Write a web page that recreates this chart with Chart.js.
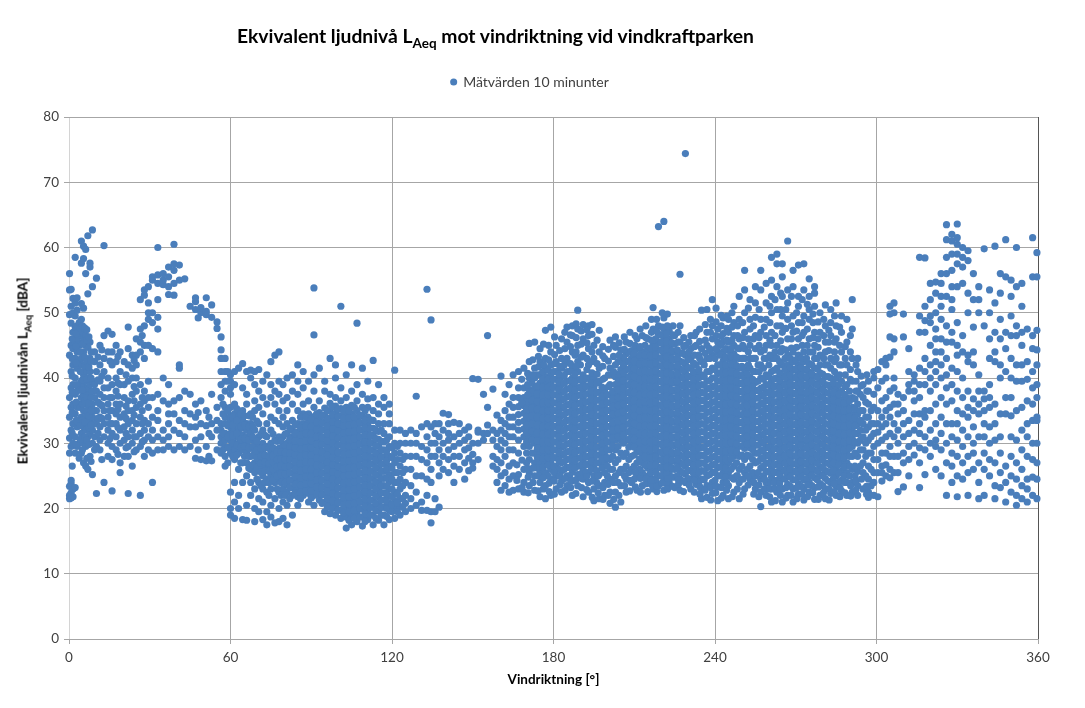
<!DOCTYPE html>
<html>
<head>
<meta charset="utf-8">
<script src="https://cdn.jsdelivr.net/npm/chart.js@4"></script>
<style>
  html, body { margin: 0; padding: 0; background: #fff; }
  #wrap { position: relative; width: 1085px; height: 708px; font-family: Lato, sans-serif; }
  #main-title { position: absolute; left: 237px; top: 24px; font-size: 19.3px; font-weight: 700; color: #000; white-space: nowrap; }
  #y-title { position: absolute; left: 22px; top: 371px; font-size: 13.7px; font-weight: 700; color: #000; white-space: nowrap;
             transform: translate(-50%, -50%) rotate(-90deg); }
  sub { font-size: 70%; line-height: 0; }
</style>
</head>
<body>
<div id="wrap">
  <canvas id="chart" width="1085" height="708"></canvas>
  <div id="main-title">Ekvivalent ljudnivå L<sub>Aeq</sub> mot vindriktning vid vindkraftparken</div>
  <div id="y-title">Ekvivalent ljudnivån L<sub>Aeq</sub> [dBA]</div>
</div>
<script>
// each row: [wind direction, [levels read at that direction]]
const sector0to60 = [
  [0.2,[21.5,22,23.4,28.5,30.8,34,37,43.5,49.7,53.5,56]],
  [0.8,[21.6,22.4,23.8,24.3,29.5,32,35.5,38.5,41,45,48.4,51,53.6]],
  [1.5,[21.8,23,30,33,36,39,42,44.5,47,50,52.2]],
  [2.3,[23.2,28.5,31,34.5,37.5,40,43,45.5,47.8,49.5,51.5,58.5]],
  [3,[29.5,32.5,35.5,38,41.5,44,46,48,50.4,52.3]],
  [3.8,[27.7,30,33,36,39,42.5,45,47,48.5]],
  [4.6,[28.5,31.5,34,37,39.5,43,45.3,46.5,49,51.4,57.6,61]],
  [5.4,[27,30,32.5,35,37.5,38.7,40.5,44,46,47,50.7,58.3,60.2]],
  [6.2,[26.5,29.5,32,34,36,38,39.5,41,45,46.5,56,59.7]],
  [7,[26,31,33,35,37,38.5,40,42,44.7,52.9,61.8]],
  [7.8,[28,31.5,33.5,35.5,37.5,39,41,43,45.5,57,57.6]],
  [8.7,[25.2,30,32,34,36,38,39.5,54,62.7]],
  [9.5,[29,31,33,35,37,39,42.5,44]],
  [10.2,[22.3,29.5,33,35,38,41,55.3]],
  [11.5,[29,30.5,32.5,34,36,37.5,39.5,42,45]],
  [13,[24,31,33,35,37,38.5,41,43,46.5,60.3]],
  [14.5,[28,30,32,34,36,38.5,40,44,47.2]],
  [16,[22.7,27.5,29.5,31.5,33,35,37,39,42,44,46.7]],
  [17.5,[29,31,33,34.5,36,38,40,42.5,45]],
  [19,[25.5,27,30,32,34,36,39,41,44]],
  [20.5,[28,30.5,32.5,34.5,37,39,42.5]],
  [22,[22.3,28,29.5,31,33,35,36.5,39.5,42,44.5,47.8]],
  [23.5,[26.5,30,32,33.5,35,37.5,40,41.5,43.5]],
  [25,[29,31,33,35.5,38,40,42,43.5,46]],
  [26.5,[22,29.5,31.5,34,36,39,44,45.5,47.5,52]],
  [28,[28,30.5,32,33.5,36.5,38,43,45,48,52.7,53.5]],
  [29.5,[29,31,33,35.5,37,39.5,45,49,50,51.5,54]],
  [31,[24,28.5,30.5,32,34,37,44.5,48.5,50,55,55.5]],
  [33,[29,31,33.5,35,37.5,44,47.5,49.3,52,54.5,55.8,60]],
  [35,[29,30.5,32,36.5,40,54.3,55,56]],
  [37,[29.5,31,33,34.5,36,39,52.8,54,55.5,57]],
  [39,[29,32,34.5,36.5,52.7,54.5,56.5,57.5,60.5]],
  [41,[29.5,31.5,33.5,37,41.5,42,55,57.3]],
  [43,[29,31,33,35,38,55.2]],
  [45,[29.5,32.5,34.5,37.5,51]],
  [47,[27.7,30.5,32.5,34,36,50.5,51.7,52.3]],
  [49,[27.5,31,33,36.5,50,50.8]],
  [51,[27.3,29.5,32.7,35,49.7,50.2,52.3]],
  [53,[27.3,31,33,37.5,49.3,51.2]],
  [55,[29,32,33.5,35.5,47.6,48.6]],
  [56.5,[28.5,30,31,32,33,37,39,41,43,44.3,46.3]],
  [58,[26.5,28,29.5,30.5,31.5,33,34,35.5,38,39.5,41,43]]
];
const sector60to130 = [
  [60,[19,20,22.5,28.5,29.5,30.5,31.5,32.5,33.5,34.2,35.5,37.5,38.5,39.5,40.5]],
  [61.5,[18.5,21,24,27.5,29,30,31,32,33,34.5,36,39,41]],
  [63,[20,22,26,28.5,30,31,32,33,34,35,41.5]],
  [64.5,[18.3,24,27,29,30,31.2,32.3,33.5,35,38.5,42.2]],
  [66,[18.2,20.5,25,27,28.5,29.7,31,32,33,36,37.5,41]],
  [67.5,[22,24,26,28,29.2,30.5,31.5,33,34.5,40,41.2]],
  [69,[18,20,23,25.5,27,28.5,29.5,30.5,32,35,36.5,39,41]],
  [70.5,[19.5,21.5,24,26,27.3,28.3,29.5,31,33,35.5,38,41.3]],
  [72,[18.3,21,23,25,26.5,27.5,28.5,30,32,34.5,37,39.5]],
  [73.5,[17.5,19.5,22.5,24.5,26,27,28,29.5,31,33,36,40.5]],
  [75,[18.7,20.5,23,25,26.5,27.5,28.5,30,32,34,37,39,42.5]],
  [76.5,[17.8,21.5,24,25.5,26.5,27.7,29,30.5,33.5,36,38,43.5]],
  [78,[18,20,22.5,24.5,26,27,28,29.2,31,33,35,37.5,39.5,44]],
  [79.5,[18.5,21,23,24.5,25.7,27,28.2,29.5,31,32.5,34,36.5,39]],
  [81,[17.5,20.5,22.5,23.7,25,26,27,28,29,30,31.5,33,35,37,40]],
  [83,[19,22,23.2,24.3,25.4,26.5,27.6,28.7,29.8,31,32,33.5,36,38,40.5]],
  [85,[20.5,21.8,22.9,24,25.1,26.2,27.3,28.4,29.5,30.6,31.7,33,35,37.5,39.5,42]],
  [87,[22,23.1,24.2,25.3,26.4,27.5,28.6,29.7,30.8,31.9,33,34.5,36,38.5,41]],
  [89,[21,22.3,23.4,24.5,25.6,26.7,27.8,28.9,30,31.1,32.2,33.3,34.5,36.5,39.5]],
  [91,[20.5,22,23.1,24.2,25.3,26.4,27.5,28.6,29.7,30.8,31.9,33,34.1,35.5,38,40.5,46.6,53.8]],
  [93,[21.3,22.6,23.7,24.8,25.9,27,28.1,29.2,30.3,31.4,32.5,33.6,34.7,36.5,41.5]],
  [95,[19.5,21,22.2,23.3,24.4,25.5,26.6,27.7,28.8,29.9,31,32.1,33.2,34.3,35.4,38,39.5]],
  [97,[19.2,20.6,21.8,22.9,24,25.1,26.2,27.3,28.4,29.5,30.6,31.7,32.8,33.9,35,36.1,37.5,43]],
  [99,[19,20.3,21.4,22.5,23.6,24.7,25.8,26.9,28,29.1,30.2,31.3,32.4,33.5,34.6,35.7,37,40,42]],
  [101,[18.5,19.8,21,22.1,23.2,24.3,25.4,26.5,27.6,28.7,29.8,30.9,32,33.1,34.2,35.3,36.5,38.5,51]],
  [103,[17,18.7,20,21.2,22.3,23.4,24.5,25.6,26.7,27.8,28.9,30,31.1,32.2,33.3,34.4,35.5,37,40.5]],
  [105,[17.5,19,20.2,21.3,22.4,23.5,24.6,25.7,26.8,27.9,29,30.1,31.2,32.3,33.4,34.5,35.8,38,42]],
  [107,[18,19.3,20.5,21.6,22.7,23.8,24.9,26,27.1,28.2,29.3,30.4,31.5,32.6,33.7,35,36.5,39,48.4]],
  [109,[17.3,18.7,19.9,21,22.1,23.2,24.3,25.4,26.5,27.6,28.7,29.8,30.9,32,33.1,34.2,35.5,37.5,41.5]],
  [111,[18.3,19.6,20.7,21.8,22.9,24,25.1,26.2,27.3,28.4,29.5,30.6,31.7,32.8,34,35.5,36.8,39.5]],
  [113,[17.5,19,20.2,21.3,22.4,23.5,24.6,25.7,26.8,27.9,29,30.1,31.2,32.3,33.5,35,37,42.7]],
  [115,[18.2,19.6,20.7,21.8,22.9,24,25.1,26.2,27.3,28.4,29.5,30.6,31.8,33,34.5,36,39]],
  [117,[17.5,19,20.2,21.3,22.4,23.5,24.6,25.7,26.8,27.9,29,30.2,31.5,33,35.5,37]],
  [119,[18.3,19.7,20.8,21.9,23,24.1,25.2,26.5,28,29.5,31,33,34.5,36]],
  [121,[18.5,20,21.2,22.5,24,25.5,27,28.5,30,32,41.2]],
  [123,[19,20.3,21.5,23,24.5,26.5,28.5,30,32]],
  [125,[19.5,20.8,22,24,26,28,30,31.5]],
  [127,[20,21.5,23.5,26,28,30,32]],
  [129,[20.5,22.5,25,28,30,31.5,37.2]]
];
const sector130to165 = [
  [131,[19.7,21,25,27.5,29.5,32.5]],
  [133,[19.7,22,24.5,27,29,31,33,53.6]],
  [134.5,[17.8,19.5,24,26,28,30,32.5,48.9]],
  [136,[19.5,21.5,28,30,31.5,33]],
  [137.5,[20.2,25,27,29,31,33]],
  [139,[26,28,30,32,34.6]],
  [141,[25.5,27.5,29,30.5,31.5,33,34.4]],
  [143,[24,26.5,28,29.5,31,33.2]],
  [145,[26,28,30,31.5,33]],
  [147,[24.5,27,29,30.5,32]],
  [148.5,[25.8,27.7,29.3,31,32.5]],
  [150,[26.2,27,28.3,30,39.9]],
  [152,[27.5,30,31.7,32,39.8]],
  [154,[30.5,31.5,37.5]],
  [155.5,[31.5,32.8,35.5,46.5]],
  [157.5,[26.5,28,30.5,32,38.3]],
  [159,[24,26,27.5,29.5,31.5,34.3]],
  [160.5,[22.8,25,27,29,30.5,32,33.5,40.3]],
  [162,[23.5,25.5,28,30,31.5,33,35,37.5]],
  [163.5,[22.5,24.5,26.5,29,31,32.5,34,36,39]],
  [165,[22.8,25,27,29,31,32.5,34,35.5,37,40.5]]
];
const sector165to205 = [
  [167,[23,25.2,28.5,30.5,32,33.2,34.4,35.6,37,38.5,41]],
  [169,[22.5,24,26,29.5,31,32.2,33.4,34.6,35.8,37,38.5,41.5]],
  [171,[23.5,25.5,27.5,29.5,31,32.2,33.4,34.6,35.8,37,38.2,40,42.5,45.3]],
  [173,[22.8,25,27,28.5,30,31.2,32.4,33.6,34.8,36,37.2,38.4,40,41.5,45.5]],
  [175,[21.8,24,25.5,27,28.4,29.6,30.8,32,33.2,34.4,35.6,36.8,38,39.2,40.5,42.5,44.5]],
  [177,[21.5,23.5,25.5,27,28.2,29.4,30.6,31.8,33,34.2,35.4,36.6,37.8,39,40.2,41.5,43,47.3]],
  [179,[22,24.5,26,27.2,28.4,29.6,30.8,32,33.2,34.4,35.6,36.8,38,39.2,40.4,42,44,47.8]],
  [181,[23,25,26.5,27.8,29,30.2,31.4,32.6,33.8,35,36.2,37.4,38.6,39.8,41,42.5,45]],
  [183,[22.5,24.2,25.8,27,28.2,29.4,30.6,31.8,33,34.2,35.4,36.6,37.8,39,40.2,41.5,43,46]],
  [185,[23.5,25,26.3,27.5,28.7,29.9,31.1,32.3,33.5,34.7,35.9,37.1,38.3,39.5,41,43,45.5,47.8]],
  [187,[22,24.2,25.6,26.8,28,29.2,30.4,31.6,32.8,34,35.2,36.4,37.6,38.8,40,41.5,44,46.5,48]],
  [189,[23.5,25.2,26.5,27.7,28.9,30.1,31.3,32.5,33.7,34.9,36.1,37.3,38.5,39.7,41,42.5,45,47.5,50.4]],
  [191,[21.8,24.5,26,27.2,28.4,29.6,30.8,32,33.2,34.4,35.6,36.8,38,39.2,40.5,43.5,46,48.2]],
  [193,[22.5,24,25.5,26.8,28,29.2,30.4,31.6,32.8,34,35.2,36.4,37.6,38.8,40,42,44.5,46.5,48]],
  [195,[21.2,23,25,26.5,27.7,28.9,30.1,31.3,32.5,33.7,34.9,36.1,37.3,38.5,40,43,45]],
  [197,[21.5,23.5,25.2,27,28.2,29.4,30.6,31.8,33,34.2,35.4,36.6,37.8,39.5,41.5,44,47.3]],
  [199,[22,24,25.5,27,28.2,29.4,30.6,31.8,33,34.2,35.4,36.6,38,40,43]],
  [201,[20.8,22.5,24.5,26,27.5,29,30.2,31.4,32.6,33.8,35,36.2,37.4,39,41.5,45.8]],
  [203,[20.2,22.5,25,27,29,30.5,31.7,32.9,34.1,35.3,36.5,37.7,39,40.2,42,44.7,46.3]],
  [205,[21,23.5,26,28.5,30.5,31.7,32.9,34.1,35.3,36.5,37.7,38.9,40.1,41.3,42.5,44.3]]
];
const sector205to250 = [
  [207,[22.5,24.5,26.5,28.5,30.5,31.7,32.9,34.1,35.3,36.5,37.7,38.9,40.1,41.3,42.5,43.7,45.5]],
  [209,[24,26,28,29.8,31,32.2,33.4,34.6,35.8,37,38.2,39.4,40.6,41.8,43,44.2]],
  [211,[22.8,25,27,28.7,29.9,31.1,32.3,33.5,34.7,35.9,37.1,38.3,39.5,40.7,41.9,43.1,44.5,46]],
  [213,[23.5,25.5,27,28.4,29.6,30.8,32,33.2,34.4,35.6,36.8,38,39.2,40.4,41.6,42.8,44,46.5]],
  [215,[22.6,24.7,26.2,27.5,28.7,29.9,31.1,32.3,33.5,34.7,35.9,37.1,38.3,39.5,40.7,41.9,43.1,44.3,46]],
  [217,[23,24.5,25.8,27,28.2,29.4,30.6,31.8,33,34.2,35.4,36.6,37.8,39,40.2,41.4,42.6,43.8,45,47.5,50.8]],
  [219,[23.5,25,26.3,27.5,28.7,29.9,31.1,32.3,33.5,34.7,35.9,37.1,38.3,39.5,40.7,41.9,43.1,44.3,45.5,46.7,48,63.2]],
  [221,[22.8,24.3,25.6,26.8,28,29.2,30.4,31.6,32.8,34,35.2,36.4,37.6,38.8,40,41.2,42.4,43.6,44.8,46,47.5,49.2,64]],
  [223,[24,25.5,26.8,28,29.2,30.4,31.6,32.8,34,35.2,36.4,37.6,38.8,40,41.2,42.4,43.6,44.8,46,47.2]],
  [225,[23.2,24.8,26,27.2,28.4,29.6,30.8,32,33.2,34.4,35.6,36.8,38,39.2,40.4,41.6,42.8,44,45.2,46.5]],
  [227,[22.8,24.5,25.8,27,28.2,29.4,30.6,31.8,33,34.2,35.4,36.6,37.8,39,40.2,41.4,42.6,43.8,45.5,48,55.9]],
  [229,[24,25.3,26.5,27.7,28.9,30.1,31.3,32.5,33.7,34.9,36.1,37.3,38.5,39.7,40.9,42.1,43.5,45,74.4]],
  [231,[23,24.5,25.8,27,28.2,29.4,30.6,31.8,33,34.2,35.4,36.6,37.8,39,40.2,41.5,43,44.5,46.5]],
  [233,[23.7,25,26.2,27.4,28.6,29.8,31,32.2,33.4,34.6,35.8,37,38.2,39.4,40.6,42,45,47]],
  [235,[21.5,23,24.5,25.8,27,28.2,29.4,30.6,31.8,33,34.2,35.4,36.6,37.8,39,40.5,42.5,44.5,50.4]],
  [237,[21.7,23.5,25,26.3,27.5,28.7,29.9,31.1,32.3,33.5,34.7,35.9,37.1,38.3,39.5,41,43,45,47,50.5]],
  [239,[22.3,24,25.5,26.7,27.9,29.1,30.3,31.5,32.7,33.9,35.1,36.3,37.5,38.7,40,41.5,43.5,46,48,52]],
  [241,[21.2,23.3,25,26.3,27.5,28.7,29.9,31.1,32.3,33.5,34.7,35.9,37.1,38.3,39.5,40.7,42,44,45.5,47.5]],
  [243,[22,24,25.5,27,28.2,29.4,30.6,31.8,33,34.2,35.4,36.6,37.8,39,40.2,41.4,42.6,44,45.5,46.8,49.2]],
  [245,[21.5,23.5,25.5,27,28.5,29.7,30.9,32.1,33.3,34.5,35.7,36.9,38.1,39.3,40.5,41.7,43,44.2,45.5,47,49]],
  [247,[22.5,24.5,26.5,28,29.3,30.5,31.7,32.9,34.1,35.3,36.5,37.7,38.9,40.1,41.3,42.5,43.7,45,46.5,48.5,51]],
  [249,[21.5,24,26,28,29.5,30.7,31.9,33.1,34.3,35.5,36.7,37.9,39.1,40.3,41.5,43,44.5,46,49,52.5]]
];
const sector250to300 = [
  [251,[23,25.5,27.5,29.2,30.4,31.6,32.8,34,35.2,36.4,37.6,38.8,40,41.2,43,44.5,47,50,53.5,56.5]],
  [253,[24.5,26.5,28,29.3,30.5,31.7,32.9,34.1,35.3,36.5,37.7,38.9,40.1,41.5,43,45,47.5,49,52]],
  [255,[23,25,27,28.5,29.7,30.9,32.1,33.3,34.5,35.7,36.9,38.1,39.3,41,43,44.5,46.5,49.3,51.5,54]],
  [257,[20.3,22.5,24.5,26.2,27.6,28.8,30,31.2,32.4,33.6,34.8,36,37.2,38.4,40,42,44,47,49,53.5,56.5]],
  [259,[22,24,25.7,27,28.2,29.4,30.6,31.8,33,34.2,35.4,36.6,37.8,39,40.5,43,45,46.5,49,51.5,54.5]],
  [261,[21,23,24.8,26.3,27.5,28.7,29.9,31.1,32.3,33.5,34.7,35.9,37.1,38.3,39.5,41,43,45,47,50,52.5,55,58.5]],
  [263,[22.5,24.3,25.6,26.8,28,29.2,30.4,31.6,32.8,34,35.2,36.4,37.6,38.8,40,41.5,43,45,48,50.5,54,57.5,59]],
  [265,[21,23,24.6,25.9,27.1,28.3,29.5,30.7,31.9,33.1,34.3,35.5,36.7,37.9,39.1,40.3,42,44.5,47,49.5,52.5,55.5,57.5]],
  [267,[22,23.7,25.1,26.3,27.5,28.7,29.9,31.1,32.3,33.5,34.7,35.9,37.1,38.3,39.5,40.7,42,43.5,46,49,51.5,53.5,61]],
  [269,[21,23,24.4,25.6,26.8,28,29.2,30.4,31.6,32.8,34,35.2,36.4,37.6,38.8,40,41.2,42.5,44,47,49.5,54,56.5]],
  [271,[22.2,23.8,25.1,26.3,27.5,28.7,29.9,31.1,32.3,33.5,34.7,35.9,37.1,38.3,39.5,40.7,42,43.5,46,48.5,51,52.5,57.3]],
  [273,[21.3,23,24.4,25.6,26.8,28,29.2,30.4,31.6,32.8,34,35.2,36.4,37.6,38.8,40,41.2,42.5,44,47,49.5,53.5,57.5]],
  [275,[22.5,24,25.3,26.5,27.7,28.9,30.1,31.3,32.5,33.7,34.9,36.1,37.3,38.5,39.7,40.9,42.2,44,46,49,50.5,52.5,55.2]],
  [277,[21.4,23.2,24.7,25.9,27.1,28.3,29.5,30.7,31.9,33.1,34.3,35.5,36.7,37.9,39.1,40.3,41.5,43,45,47,51,53,54]],
  [279,[22,23.8,25.2,26.4,27.6,28.8,30,31.2,32.4,33.6,34.8,36,37.2,38.4,39.6,40.8,42,43.5,47,50]],
  [281,[21.5,23,24.6,25.8,27,28.2,29.4,30.6,31.8,33,34.2,35.4,36.6,37.8,39,40.2,42,44,45.5,48,51.2]],
  [283,[22.3,24,25.4,26.6,27.8,29,30.2,31.4,32.6,33.8,35,36.2,37.4,38.6,40,41.5,43,46.5,48.5,50.5]],
  [285,[22,23.5,25,26.3,27.5,28.7,29.9,31.1,32.3,33.5,34.7,35.9,37.1,38.3,40,43,46,48,51.5]],
  [287,[22.7,24.3,25.7,27,28.2,29.4,30.6,31.8,33,34.2,35.4,36.6,38,39.5,42,44,47,49.5]],
  [289,[22,24,25.5,27,28.5,29.7,30.9,32.1,33.3,34.5,35.7,37,39,42,45.5,49]],
  [291,[22.5,24,26,28,29.5,30.7,31.9,33.1,34.3,35.5,37,39.5,43,47.5,52]],
  [293,[22,23.5,25.7,28,30,31.5,33,34.5,36,38,41,43]],
  [295,[23,25.5,27,29,31,33,35,37,39]],
  [297,[21.7,22.5,24.5,26.5,28.5,30.5,32.5,34,36,38,39.5]],
  [299,[22,24,25.5,27.5,29.5,31.5,33,35.5,37.5,40,41]]
];
const sector300to360 = [
  [300.5,[21.8,25.5,27.5,30,31.7,33,35,38.5,41.3]],
  [302,[24.2,25.5,26.5,28.5,30.5,32.5,34,36.5,39.5,42.5]],
  [303.5,[25,26.7,28.5,31,33,35,37,40,42,43]],
  [305,[24.7,26,28,29.5,31.5,34,35.5,38,43.2,46.3,49.8,51]],
  [306.5,[25.5,28,31,33,36,38.5,40,44,46,50,51.5]],
  [308,[22.6,25.5,28,30,32,34.5,36,37.5]],
  [310,[23.3,27,28.5,31,33,35,37,46.3,49.8]],
  [312,[25,27.5,29.5,31.5,33.5,38,39,41,44.5]],
  [314,[28.2,30,32,34.5,36.5,38,39.5,40.5]],
  [316,[23.2,27,29.3,31.5,33,34.5,37,39,41.5,47,49.5,58.5]],
  [318,[25.2,29,31,34,35,39,41,43,47,48.8,51,58.4]],
  [320,[28,30,32,35,38,40,42,45,48.5,49.5,52,54.5]],
  [322,[26,29.5,30.5,33,36,39,41,42.5,44,46,47.5,50,53,54.7]],
  [324,[25,29,31.5,34,37,40,42,44,46,49,51,52.5,54.5,56]],
  [326,[22,27,30,33,36,38.5,40.5,43,45.5,48,52.5,56,58.5,61.2,63.5]],
  [328,[24,26.5,28.5,31,33,36.5,39,41.5,45.5,47,50.5,52,54,56.5,59,61,62]],
  [330,[21.8,25,28,30.5,33,35,38,41,43.5,45,48.5,54,57.5,59,60.5,61.5,63.6]],
  [332,[24.5,27,29.5,32,34.5,37,40,44,46.5,54.5,57,58.5,60]],
  [334,[22,25.5,28,31,34,35.5,38,42.5,43.5,50,53,58,59.5]],
  [336,[26,28.5,30,32.5,35,36.8,42,44,47.8,52,56]],
  [338,[21.5,24,27,31,34.5,36,38,40.5,50,52,54]],
  [340,[22,26,28.5,31,33,35,36.8,38,48,59.8]],
  [342,[25,27.5,30,32.5,35.5,37,39,43,46,50,53.5]],
  [344,[21.5,23.5,27,30.5,33,36,42.5,44,47,51.5,60.2]],
  [346,[23.2,25.5,28.5,31,34.5,40,42,46,49,53,56]],
  [348,[21,24,26.5,34.5,37,41,44.5,47,55.5,61.2]],
  [350,[22.5,25,28,31,34.2,37,40,43,46.5,49.5,52.5,55]],
  [352,[20.5,22,24.5,27,30.5,35,39.5,42,46.5,48,54,60]],
  [354,[21.5,23.5,26,29,32,35.5,39.5,42,45,47,51,54.5]],
  [356,[21,23,24.5,28,31,33,36.5,39.8,42.5,47.5]],
  [358,[22,24.8,27.5,30,33.5,36,38.5,41,44.5,46.5,55.5,61.5]],
  [359.6,[21.5,24.5,27,30,33.5,34,37,39,42,44.3,47.3,55.5,59.2]]
];
// the packed parts of the cloud, between the rows above
const denseNorth = [
  [1.2,[26.5,31.5,34.7,37.8,40.3,43,46]],[2.7,[29.8,33.5,36.3,39,42.3,44.8,46.8]],[4.2,[30.6,32.7,35.5,38.2,41,44,47.6]],
  [5,[29,33.6,36,38.2,39.7,42,45.2,48]],[5.8,[31,33.2,36.4,41.8,43.2,47.7]],[6.6,[27.7,30.5,35,37,39.8,42.5,45.8,47.4]],
  [7.4,[29.8,32.4,34.2,36.2,41.7,46.3]],[8.2,[27.2,32.8,35,37,40,42.6,44]],[10.8,[31.5,33.8,36.3,39.7,43.2]],
  [12.2,[27.5,33.8,35.8,40.3,44.3]],[15.2,[30.7,33,35,37,42.6]],[18.2,[28.3,32.4,35.2,37.2,39.2,43.3]],
  [21.2,[29.3,31.5,33.8,35.7,40.5]],[24.2,[28.7,31,34.3,36.5,38.7,42.7]],[27.2,[30.2,33,35,37,46.5]],
  [48,[29,34.7,49.2]],[52,[28,31.5,34]],[57.2,[29,31.5,34.5,36]],[59,[27,29.3,31,32.7,35,39.5,41]]
];
const denseEast = [
  [60.8,[28,30,31.2,32.8,34]],[62.3,[28.2,29.7,31.5,33.5,35.3]],[63.8,[27,29.4,30.6,32.6,34.5]],[65.2,[28,29.5,30.7,32.8,34.2]],
  [66.8,[26.2,28,29.3,30.5,32.5,34.2]],[68.2,[26.7,28.1,29.5,31,32.6,34]],[69.8,[24.5,26.3,27.8,29,30.3,33.4]],
  [71.3,[23.5,25.6,26.9,28,29.2,31.4]],[72.8,[24,25.8,27.1,28.2,29.3,31.2]],[74.3,[22,24,25.7,26.9,28,29.2]],
  [75.8,[24.4,26,27.1,28.1,29.3,31.4]],[77.3,[23,25,26.4,27.5,28.7,30.3]],[78.8,[22,24,25.3,26.5,27.6,28.7,30.3]],
  [80.3,[22,24,25.3,26.4,27.5,28.6,29.7,31.4]],[82,[21.5,23.2,24.3,25.5,26.5,27.5,28.5,29.5,30.6,32.3]],
  [84,[22.4,23.7,24.9,26,27.1,28.2,29.3,30.4,31.5,32.8]],[86,[21.5,22.5,23.6,24.7,25.8,26.9,28,29.1,30.2,31.3,32.4,34]],
  [88,[22.7,23.8,24.9,26,27.1,28.2,29.3,30.4,31.5,32.6,34]],[90,[21.6,22.7,23.8,24.9,26,27.1,28.2,29.3,30.4,31.5,32.6,33.7]],
  [92,[22.2,23.3,24.4,25.5,26.6,27.7,28.8,29.9,31,32.1,33.2,34.5]],[94,[20.8,22.1,23.2,24.3,25.4,26.5,27.6,28.7,29.8,30.9,32,33.1,34.2]],
  [96,[20.2,21.5,22.7,23.8,24.9,26,27.1,28.2,29.3,30.4,31.5,32.6,33.7,35]],[98,[20,21.2,22.3,23.4,24.5,25.6,26.7,27.8,28.9,30,31.1,32.2,33.3,34.4,35.6]],
  [100,[19.7,20.9,22,23.1,24.2,25.3,26.4,27.5,28.6,29.7,30.8,31.9,33,34.1,35.2]],[102,[19.3,20.6,21.7,22.8,23.9,25,26.1,27.2,28.3,29.4,30.5,31.6,32.7,33.8,35]],
  [104,[18.2,19.5,20.7,21.8,22.9,24,25.1,26.2,27.3,28.4,29.5,30.6,31.7,32.8,33.9,35]],[106,[18.5,19.7,20.8,21.9,23,24.1,25.2,26.3,27.4,28.5,29.6,30.7,31.8,32.9,34,35.5]],
  [108,[18.7,20,21.1,22.2,23.3,24.4,25.5,26.6,27.7,28.8,29.9,31,32.1,33.2,34.3]],[110,[18,19.2,20.3,21.4,22.5,23.6,24.7,25.8,26.9,28,29.1,30.2,31.3,32.4,33.5,35]],
  [112,[19,20.2,21.3,22.4,23.5,24.6,25.7,26.8,27.9,29,30.1,31.2,32.3,33.6]],[114,[18.5,19.7,20.8,21.9,23,24.1,25.2,26.3,27.4,28.5,29.6,30.7,32]],
  [116,[19,20.2,21.3,22.4,23.5,24.6,25.7,26.8,27.9,29,30.3,32]],[118,[18.8,20,21.1,22.2,23.4,24.7,26,27.3,28.8,30.5]],
  [120,[19.5,20.6,21.8,23,24.5,26.2,27.8,29.3]],[122,[19.5,20.9,22.2,24,25.5,27.5,29.5]],[124,[20.2,21.5,23.5,25.5,27.5]]
];
const denseSouth = [
  [170,[27,28.5,30.2,31.6,32.8,34,35.2,36.4]],[172,[28.5,30.5,31.8,33,34.2,35.4,36.6,37.8,39.2]],[174,[26.2,27.8,29.2,30.4,31.6,32.8,34,35.2,36.4,37.6,38.8,40.5]],
  [176,[26.3,27.7,29,30.2,31.4,32.6,33.8,35,36.2,37.4,38.6,39.8,41]],[178,[25,26.6,27.8,29,30.2,31.4,32.6,33.8,35,36.2,37.4,38.6,39.8,41.2]],
  [180,[26.5,27.8,29,30.2,31.4,32.6,33.8,35,36.2,37.4,38.6,39.8,41]],[182,[26,27.4,28.6,29.8,31,32.2,33.4,34.6,35.8,37,38.2,39.4,40.6]],
  [184,[26,27.2,28.4,29.6,30.8,32,33.2,34.4,35.6,36.8,38,39.2,40.4,42]],[186,[25,26.3,27.6,28.8,30,31.2,32.4,33.6,34.8,36,37.2,38.4,39.6,41]],
  [188,[26.2,27.4,28.6,29.8,31,32.2,33.4,34.6,35.8,37,38.2,39.4,40.6,43.5]],[190,[25.3,26.6,27.8,29,30.2,31.4,32.6,33.8,35,36.2,37.4,38.6,39.8,42]],
  [192,[25.5,26.7,27.9,29.1,30.3,31.5,32.7,33.9,35.1,36.3,37.5,38.7,39.9]],[194,[26,27.2,28.4,29.6,30.8,32,33.2,34.4,35.6,36.8,38,39.2]],
  [196,[24,25.8,27,28.2,29.4,30.6,31.8,33,34.2,35.4,36.6,37.8,39.2]],[198,[26.2,27.6,28.8,30,31.2,32.4,33.6,34.8,36,37.2,38.6]],
  [200,[25,26.5,27.8,29,30.2,31.4,32.6,33.8,35,36.2,37.4]],[202,[26,28,29.6,30.8,32,33.2,34.4,35.6,36.8,38,40.5]],
  [204,[24,27.5,29.5,31,32.2,33.4,34.6,35.8,37,38.2,39.4,40.6,42.5]]
];
const denseSouthWest = [
  [206,[26,28,30,31.2,32.4,33.6,34.8,36,37.2,38.4,39.6,40.8,42,43.2]],[208,[25.5,27.5,29.4,30.6,31.8,33,34.2,35.4,36.6,37.8,39,40.2,41.4,42.6,44]],
  [210,[24.5,26.5,28.2,29.4,30.6,31.8,33,34.2,35.4,36.6,37.8,39,40.2,41.4,42.6,43.8]],[212,[26,27.6,29,30.2,31.4,32.6,33.8,35,36.2,37.4,38.6,39.8,41,42.2,43.5]],
  [214,[25,26.6,27.9,29.1,30.3,31.5,32.7,33.9,35.1,36.3,37.5,38.7,39.9,41.1,42.3,43.5,45]],[216,[25.4,26.6,27.8,29,30.2,31.4,32.6,33.8,35,36.2,37.4,38.6,39.8,41,42.2,43.4,44.6]],
  [218,[24.2,25.5,26.7,27.9,29.1,30.3,31.5,32.7,33.9,35.1,36.3,37.5,38.7,39.9,41.1,42.3,43.5,44.7,46]],[220,[25,26.2,27.4,28.6,29.8,31,32.2,33.4,34.6,35.8,37,38.2,39.4,40.6,41.8,43,44.2,45.4,46.6]],
  [222,[23.8,25.2,26.4,27.6,28.8,30,31.2,32.4,33.6,34.8,36,37.2,38.4,39.6,40.8,42,43.2,44.4,45.6,46.8]],[224,[24.8,26.2,27.4,28.6,29.8,31,32.2,33.4,34.6,35.8,37,38.2,39.4,40.6,41.8,43,44.2,45.4]],
  [226,[25,26.3,27.5,28.7,29.9,31.1,32.3,33.5,34.7,35.9,37.1,38.3,39.5,40.7,41.9,43.1,44.3]],[228,[25.5,26.8,28,29.2,30.4,31.6,32.8,34,35.2,36.4,37.6,38.8,40,41.2,42.4,43.8]],
  [230,[24.6,25.9,27.1,28.3,29.5,30.7,31.9,33.1,34.3,35.5,36.7,37.9,39.1,40.3,41.6,42.8]],[232,[25.4,26.6,27.8,29,30.2,31.4,32.6,33.8,35,36.2,37.4,38.6,39.8,41,42.3]],
  [234,[24,25.5,26.8,28,29.2,30.4,31.6,32.8,34,35.2,36.4,37.6,38.8,40,41.3,43.5]],[236,[24.4,25.7,26.9,28.1,29.3,30.5,31.7,32.9,34.1,35.3,36.5,37.7,38.9,40.2,42]],
  [238,[25.2,26.4,27.6,28.8,30,31.2,32.4,33.6,34.8,36,37.2,38.4,39.6,41,43,44.5]],[240,[24.3,25.6,26.8,28,29.2,30.4,31.6,32.8,34,35.2,36.4,37.6,38.8,40,41.3,43]],
  [242,[25,26.4,27.6,28.8,30,31.2,32.4,33.6,34.8,36,37.2,38.4,39.6,40.8,42,43.5,45]],[244,[24.8,26.2,27.6,28.8,30,31.2,32.4,33.6,34.8,36,37.2,38.4,39.6,40.8,42,43.2,44.5]],
  [246,[26,27.6,28.9,30.1,31.3,32.5,33.7,34.9,36.1,37.3,38.5,39.7,40.9,42.1,43.3,44.5]],[248,[25,27,28.7,29.9,31.1,32.3,33.5,34.7,35.9,37.1,38.3,39.5,40.7,41.9,43.2]]
];
const denseWest = [
  [250,[26.5,28.2,29.6,30.8,32,33.2,34.4,35.6,36.8,38,39.2,40.4,41.8]],[252,[26,28.2,29.8,31,32.2,33.4,34.6,35.8,37,38.2,39.4,40.6]],
  [254,[25.5,27.5,29,30.2,31.4,32.6,33.8,35,36.2,37.4,38.6,39.8]],[256,[25.5,27.2,28.5,29.7,30.9,32.1,33.3,34.5,35.7,36.9,38.1,39.5,42]],
  [258,[25,26.5,27.8,29,30.2,31.4,32.6,33.8,35,36.2,37.4,38.6,39.8,41.5]],[260,[24,25.6,26.9,28.1,29.3,30.5,31.7,32.9,34.1,35.3,36.5,37.7,38.9,40.2,42]],
  [262,[24,25.5,26.7,27.9,29.1,30.3,31.5,32.7,33.9,35.1,36.3,37.5,38.7,39.9,41.2,43]],[264,[23.8,25.2,26.4,27.6,28.8,30,31.2,32.4,33.6,34.8,36,37.2,38.4,39.6,40.8,42.5]],
  [266,[24.5,25.7,26.9,28.1,29.3,30.5,31.7,32.9,34.1,35.3,36.5,37.7,38.9,40.1,41.3,43]],[268,[23.4,24.8,26,27.2,28.4,29.6,30.8,32,33.2,34.4,35.6,36.8,38,39.2,40.4,41.6,43]],
  [270,[24.4,25.7,26.9,28.1,29.3,30.5,31.7,32.9,34.1,35.3,36.5,37.7,38.9,40.1,41.4,42.8]],[272,[23.4,24.8,26,27.2,28.4,29.6,30.8,32,33.2,34.4,35.6,36.8,38,39.2,40.4,41.6,43]],
  [274,[24.6,25.8,27,28.2,29.4,30.6,31.8,33,34.2,35.4,36.6,37.8,39,40.2,41.4,43]],[276,[23.5,25,26.2,27.4,28.6,29.8,31,32.2,33.4,34.6,35.8,37,38.2,39.4,40.6,42]],
  [278,[24.4,25.7,26.9,28.1,29.3,30.5,31.7,32.9,34.1,35.3,36.5,37.7,38.9,40.1,41.4,43]],[280,[23.5,25,26.2,27.4,28.6,29.8,31,32.2,33.4,34.6,35.8,37,38.2,39.4,40.6]],
  [282,[24.2,25.6,26.9,28.1,29.3,30.5,31.7,32.9,34.1,35.3,36.5,37.7,38.9,40.2,42]],[284,[24.6,25.8,27,28.2,29.4,30.6,31.8,33,34.2,35.4,36.6,37.8,39.2]],
  [286,[24,25.4,26.7,27.9,29.1,30.3,31.5,32.7,33.9,35.1,36.3,37.5,39]],[288,[25,26.4,27.8,29,30.2,31.4,32.6,33.8,35,36.2,37.5]],
  [290,[25,26.5,28,29.2,30.4,31.6,32.8,34,35.2,36.5,38]],[292,[25,26.5,28.5,30.2,31.5,32.7,33.9,35.2,36.8]],[294,[26.5,29,30.5,32,33.5,35,37.5]],
  [296,[25,28,30,32,34,36.3]],[298,[23.5,26,28.5,31,33,35]]
];
// loose points round the edge of the cloud
const fringeLow = [
  [166.4,[24.3,26.7]],[168.3,[23.2,27.4]],[170.6,[22.4,24.8,26.1]],[172.4,[24,26.2]],[174.3,[22.7,25]],[176.2,[23,24.7]],[178.4,[22.6,23.9]],
  [180.3,[22.2,24.2,25.5]],[182.4,[23.6,25]],[184.3,[22.8,24.6]],[186.4,[23.2,24.2]],[188.3,[22.3,24.4]],[190.4,[23.2,24.6]],[192.3,[22.9,24.9]],
  [194.4,[21.7,24.2]],[196.6,[22.4,25]],[198.4,[21.4,23.2]],[200.3,[22,23.7]],[202.4,[21.4,24]],[204.3,[22,25.5]],[206.4,[23.5,25]],
  [208.3,[22.7,24.3]],[210.4,[23.3,25.5]],[212.3,[22.5,24.6]],[214.4,[23.8,24.6]],[216.3,[23.7,24.3]],[218.4,[22.6,23.4]],[220.3,[23.9]],[222.4,[23,24.6]],
  [224.3,[23.4]],[226.4,[23.7,24.4]],[228.3,[22.6,24.2]],[230.4,[23.6]],[232.3,[22.5,24.3]],[234.4,[22.2,23.3]],[236.3,[22.8]],[238.4,[21.3,23.2]],
  [240.3,[22.4,23.4]],[242.4,[21.6,23.2]],[244.3,[22.8,24]],[246.4,[21.8,24.7]],[248.3,[23,25]],[250.4,[22.2,24.5]],[252.3,[23.6,25]],[254.4,[22.2,24]],
  [256.3,[21.8,23.6]],[258.4,[23,24.5]],[260.3,[21.8,23]],[262.4,[21.2,23]],[264.3,[22,23]],[266.4,[21.6,23.2]],[268.3,[22]],[270.4,[21.5,23.2]],
  [272.3,[22.2]],[274.4,[21.8,23.6]],[276.3,[22.4]],[278.4,[21.4,23.3]],[280.3,[22.4]],[282.4,[21.3,23]],[284.3,[22.6,23.8]],[286.4,[21.8,23.2]],
  [288.3,[22.4,24]],[290.4,[21.9,23.5]],[292.3,[22.8,24.2]],[294.4,[24.5]],[296.3,[22.2,23.4]]
];
const fringeHigh = [
  [168.2,[36.2,39.8]],[170.4,[37.4,39,40.7]],[172.3,[40.5,42.8]],[174.4,[41.7,43.3]],[176.3,[42,45.2]],[178.2,[42.8,45]],[180.4,[42.2,43.6,46.3]],
  [182.3,[41.8,44.2]],[184.2,[42.8,44.5,47]],[186.3,[42.2,44.8,46.6]],[188.4,[41.8,44,46.2,48.3]],[190.3,[43.2,45.2,47.2]],[192.4,[41.3,43,45.4,47.4]],
  [194.3,[40.8,42.5,44,46.7,48.2]],[196.2,[40.6,42.2,45.8]],[198.3,[39.8,41.8,43.4,44.8]],[200.4,[38.7,40.5,42.6,44.4]],[202.3,[41,43.3,45]],
  [204.4,[43.5,45.4]],[206.3,[44.4,46.3]],[208.4,[45.3,47]],[210.3,[45,46.5]],[212.2,[44.8,47.5]],[214.3,[46.2,48]],[216.4,[45.8,47,49]],[218.3,[47.2,49]],
  [220.4,[47.8,50]],[222.3,[48,49.8]],[224.4,[46.6,48]],[226.3,[45.5,47]],[228.4,[44.8,46.2]],[230.3,[44,45.5]],[232.4,[43.5,44.8,46.5]],[234.3,[43,45.6,47.5]],
  [236.4,[43.8,45.8,48.2]],[238.3,[44.2,47,49]],[240.4,[44.5,46.5,48.6,50.7]],[242.3,[46.4,48,49.6]],[244.4,[45.8,47.6,49.5]],[246.3,[45.8,47.8,50]],
  [248.4,[44.6,46.5,48]],[250.3,[43,45,46.2,48.5]],[252.4,[42,44,46,50.7]],[254.3,[41,43,46,48]],[256.4,[41,45,46.2,50.5]],[258.3,[43,44.3,47.8]],
  [260.4,[43.5,45.8,48.5,51]],[262.3,[44,46.5,52]],[264.4,[44,45.7,48,50.5,53]],[266.3,[44.3,47.6,50.5]],[268.4,[44.6,46,48,52.5]],[270.3,[44.7,47.2,50]],
  [272.4,[45,46.5,48.5,52]],[274.3,[45,47.5,51.3]],[276.4,[44,46.2,48.5,49.8]],[278.3,[44.7,46,48.6]],[280.4,[43,46.5,49]],[282.3,[44.2,45.5,47.3]],
  [284.4,[41,42.5,44,45.5,49.5]],[286.3,[40.5,42,45,47.8]],[288.4,[38.7,40.5,43,44.8]],[290.3,[39.8,41.3,44,46.5]],[292.4,[38,39.5,42]],[294.3,[38.8,40.3]],[296.4,[38,40.5]]
];
const seriesName = 'Mätvärden 10 minunter';
const dirTicks = [0, 60, 120, 180, 240, 300, 360];

const allRows = [...sector0to60, ...sector60to130, ...sector130to165, ...sector165to205,
                 ...sector205to250, ...sector250to300, ...sector300to360,
                 ...denseNorth, ...denseEast, ...denseSouth, ...denseSouthWest, ...denseWest,
                 ...fringeLow, ...fringeHigh];
const points = [];
allRows.forEach(([dir, levels]) => levels.forEach(v => points.push({ x: dir, y: v })));

// the legend stays up under the title, the plot starts lower
const moveLegend = {
  id: 'moveLegend',
  afterLayout(chart) {
    const lg = chart.legend;
    lg.left += 11; lg.right += 11;
    lg.top -= 18; lg.bottom -= 18;
  }
};

new Chart(document.getElementById('chart'), {
  type: 'scatter',
  plugins: [moveLegend],
  data: {
    datasets: [{
      label: seriesName,
      data: points,
      backgroundColor: '#4a7ebb',
      borderColor: '#4a7ebb',
      borderWidth: 0,
      pointRadius: 3.6,
      clip: false
    }]
  },
  options: {
    responsive: false,
    animation: false,
    layout: { padding: { left: 0, right: 47, top: 66, bottom: 0 } },
    plugins: {
      title: { display: false },
      tooltip: { enabled: false },
      legend: {
        position: 'top',
        labels: {
          usePointStyle: true, pointStyle: 'circle', boxWidth: 5, boxHeight: 5,
          color: '#404040', font: { family: 'Lato', size: 14 }, padding: 27
        }
      }
    },
    scales: {
      x: {
        type: 'linear', min: 0, max: 360,
        afterBuildTicks: ax => { ax.ticks = dirTicks.map(v => ({ value: v })); },
        afterFit: ax => { ax.height = 69; },
        grid: {
          color: c => c.tick.value === 360 ? '#555555' : (c.tick.value === 0 ? '#d4d4d4' : '#a6a6a6'),
          tickColor: '#a6a6a6', tickLength: 5, lineWidth: 1
        },
        border: { display: false },
        ticks: { color: '#404040', font: { family: 'Lato', size: 13.5 }, padding: 6, maxRotation: 0 },
        title: { display: true, text: 'Vindriktning [°]', color: '#000', font: { family: 'Lato', size: 13.5, weight: 'bold' }, padding: { top: 4, bottom: 20 } }
      },
      y: {
        min: 0, max: 80,
        afterFit: ax => { ax.width = 69; },
        grid: { color: '#a6a6a6', tickColor: '#a6a6a6', tickLength: 5, lineWidth: 1 },
        border: { display: false },
        ticks: { stepSize: 10, color: '#404040', font: { family: 'Lato', size: 13.5 }, padding: 5 }
      }
    }
  }
});
</script>
</body>
</html>
